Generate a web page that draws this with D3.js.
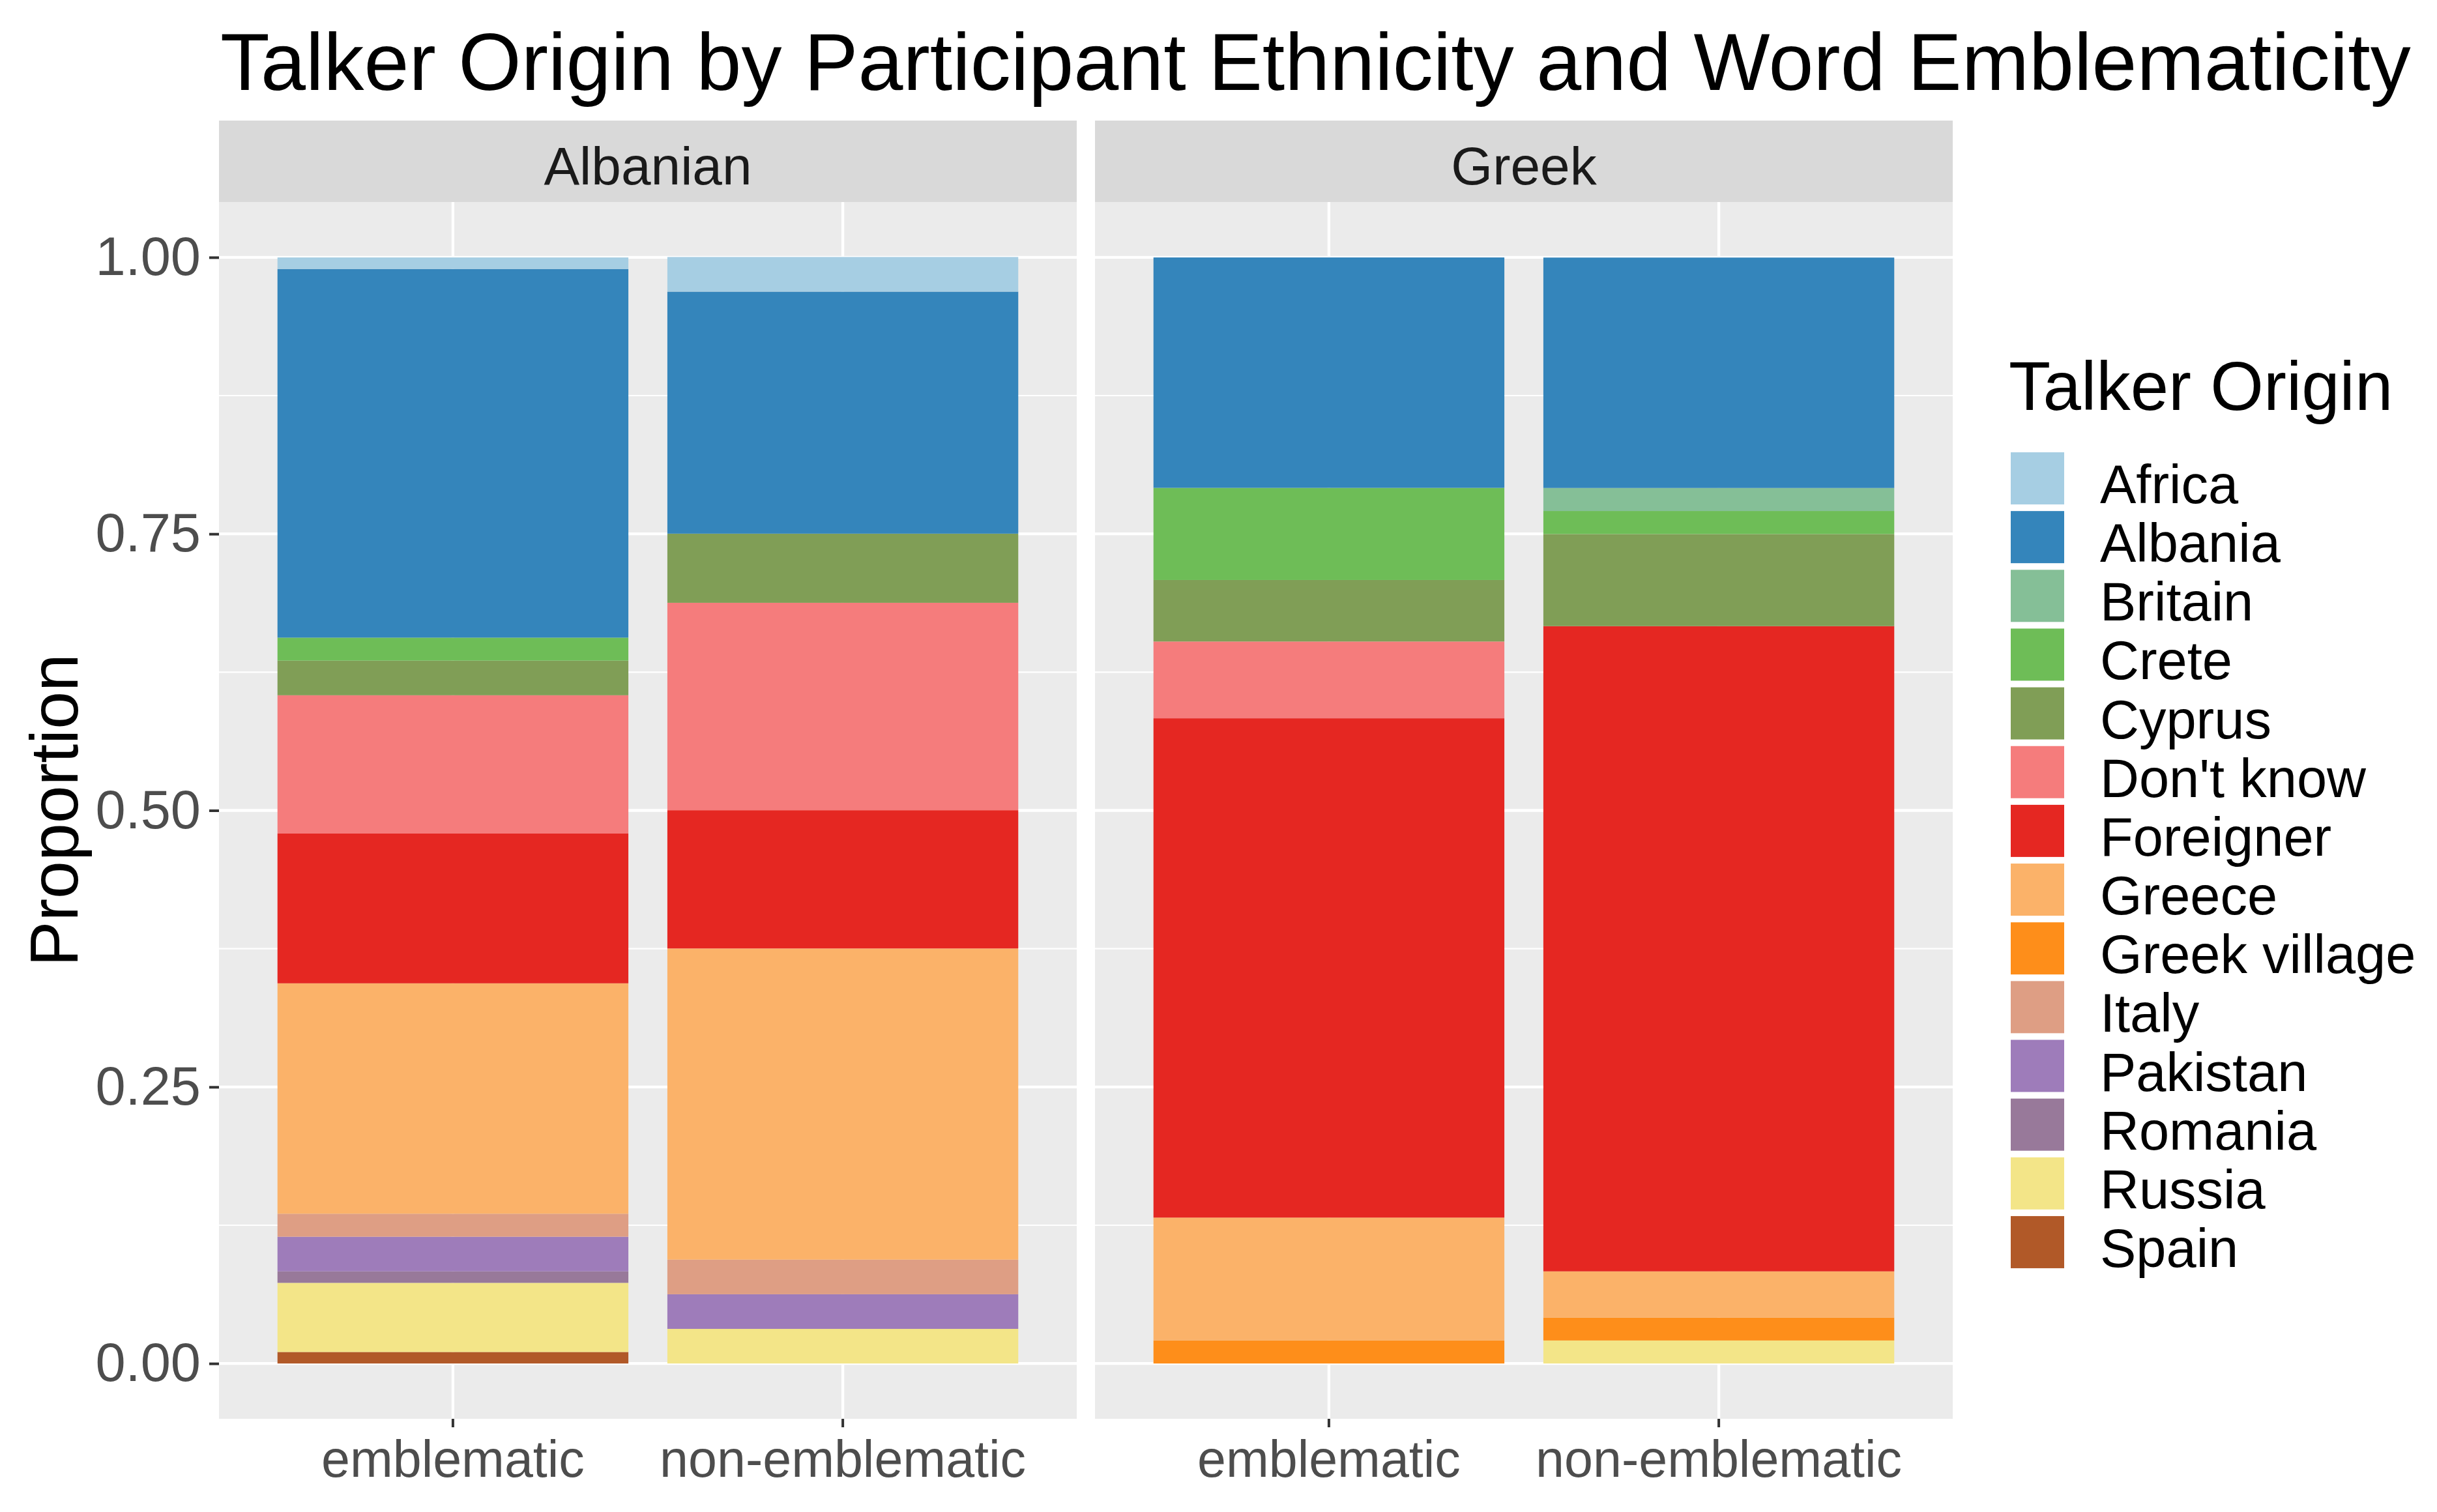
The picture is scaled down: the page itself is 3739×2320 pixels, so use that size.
<!DOCTYPE html>
<html><head><meta charset="utf-8">
<script src="https://cdn.jsdelivr.net/npm/d3@7"></script>
<style>
body{margin:0;background:#fff}
svg{display:block}
text{font-family:"Liberation Sans",Arial,Helvetica,sans-serif}
</style>
</head><body>
<svg id="chart" width="3739" height="2320"></svg>
<script>
// ---------- data ----------
const ethnicities = ["Albanian", "Greek"];
const categories = ["emblematic", "non-emblematic"];
const origins = ["Africa","Albania","Britain","Crete","Cyprus","Don't know","Foreigner","Greece","Greek village","Italy","Pakistan","Romania","Russia","Spain"];
const originColors = ["#A6CEE3","#3485BB","#85BF97","#6EBD57","#809E56","#F57C7C","#E52722","#FBB269","#FE8E1A","#DE9E84","#9E7CBA","#98799A","#F3E588","#B15928"];
// proportions per origin (same order as origins)
const albanianEmblematic    = [0.0104,0.3333,0,0.0208,0.0313,0.1250,0.1354,0.2083,0,0.0208,0.0313,0.0104,0.0625,0.0104];
const albanianNonEmblematic = [0.0313,0.2188,0,0,0.0625,0.1875,0.1250,0.2813,0,0.0313,0.0313,0,0.0313,0];
const greekEmblematic       = [0,0.2083,0,0.0833,0.0556,0.0694,0.4514,0.1111,0.0208,0,0,0,0,0];
const greekNonEmblematic    = [0,0.2083,0.0208,0.0208,0.0833,0,0.5833,0.0417,0.0208,0,0,0,0.0208,0];
const yTickValues = [0, 0.25, 0.5, 0.75, 1];
const yMinorValues = [0.125, 0.375, 0.625, 0.875];
const titleText = "Talker Origin by Participant Ethnicity and Word Emblematicity";
const yTitle = "Proportion";
const legendTitle = "Talker Origin";

const barSeries = {
  "Albanian|emblematic": albanianEmblematic,
  "Albanian|non-emblematic": albanianNonEmblematic,
  "Greek|emblematic": greekEmblematic,
  "Greek|non-emblematic": greekNonEmblematic
};

// ---------- layout ----------
const svg = d3.select("#chart");
const panelTop = 310, panelBottom = 2177;
const stripTop = 185;
const panelX = [[336, 1652], [1680, 2996]];
const grey = "#EBEBEB";

const y = d3.scaleLinear().domain([-0.05, 1.05]).range([panelBottom, panelTop]);
const color = d3.scaleOrdinal().domain(origins).range(originColors);

svg.append("rect").attr("width",3739).attr("height",2320).attr("fill","#fff");

// title
svg.append("text").attr("x",338).attr("y",138)
  .attr("font-size",124).attr("fill","#000").text(titleText);

const stack = d3.stack().keys(origins.slice().reverse());

ethnicities.forEach((eth, pi) => {
  const [x0, x1] = panelX[pi];
  const g = svg.append("g");
  const x = d3.scaleBand().domain(categories).range([x0, x1]).paddingInner(0.1).paddingOuter(0.15);

  // strip
  g.append("rect").attr("x",x0).attr("y",stripTop).attr("width",x1-x0).attr("height",panelTop-stripTop).attr("fill","#D9D9D9");
  g.append("text").attr("x",(x0+x1)/2).attr("y",283).attr("text-anchor","middle")
    .attr("font-size",82).attr("fill","#1A1A1A").text(eth);

  // panel
  g.append("rect").attr("x",x0).attr("y",panelTop).attr("width",x1-x0).attr("height",panelBottom-panelTop).attr("fill",grey);
  g.selectAll(".minor").data(yMinorValues).join("line")
    .attr("x1",x0).attr("x2",x1).attr("y1",d=>y(d)).attr("y2",d=>y(d))
    .attr("stroke","#fff").attr("stroke-width",2.2);
  g.selectAll(".major").data(yTickValues).join("line").attr("class","major")
    .attr("x1",x0).attr("x2",x1).attr("y1",d=>y(d)).attr("y2",d=>y(d))
    .attr("stroke","#fff").attr("stroke-width",4.3);
  g.selectAll(".vmajor").data(categories).join("line").attr("class","vmajor")
    .attr("x1",d=>x(d)+x.bandwidth()/2).attr("x2",d=>x(d)+x.bandwidth()/2)
    .attr("y1",panelTop).attr("y2",panelBottom)
    .attr("stroke","#fff").attr("stroke-width",4.3);

  // bars
  const rows = categories.map(cat => {
    const vals = barSeries[eth + "|" + cat];
    const row = {category: cat};
    origins.forEach((o, i) => row[o] = vals[i]);
    return row;
  });
  const layers = stack(rows);
  layers.forEach(layer => {
    g.append("g").attr("fill", color(layer.key))
      .selectAll("rect").data(layer.filter(d => d[1] - d[0] > 0)).join("rect")
      .attr("x", d => x(d.data.category))
      .attr("width", x.bandwidth())
      .attr("y", d => y(d[1]))
      .attr("height", d => y(d[0]) - y(d[1]));
  });

  // x axis
  const xa = svg.append("g").attr("transform",`translate(0,${panelBottom})`)
    .call(d3.axisBottom(x).tickSize(13).tickPadding(20));
  xa.select(".domain").remove();
  xa.selectAll("line").attr("stroke","#333333").attr("stroke-width",4);
  xa.selectAll("text").attr("font-size",79).attr("fill","#4D4D4D")
    .style("font-family","'Liberation Sans',Arial,sans-serif");
});

// y axis
const ya = svg.append("g").attr("transform",`translate(${panelX[0][0]},0)`)
  .call(d3.axisLeft(y).tickValues(yTickValues).tickFormat(d3.format(".2f")).tickSize(15).tickPadding(13));
ya.select(".domain").remove();
ya.selectAll("line").attr("stroke","#333333").attr("stroke-width",4);
ya.selectAll("text").attr("font-size",83).attr("fill","#4D4D4D")
  .style("font-family","'Liberation Sans',Arial,sans-serif");

svg.append("text").attr("transform","translate(119,1243) rotate(-90)")
  .attr("text-anchor","middle").attr("font-size",104).attr("fill","#000").text(yTitle);

// legend
const lg = svg.append("g");
lg.append("text").attr("x",3082).attr("y",629).attr("font-size",105).attr("fill","#000").text(legendTitle);
const keyStep = 90.15, keyTop = 694;
const items = lg.selectAll(".item").data(origins).join("g")
  .attr("transform",(d,i)=>`translate(3085,${keyTop + i*keyStep})`);
items.append("rect").attr("width",82).attr("height",80).attr("fill",d=>color(d));
items.append("text").attr("x",137).attr("y",78).attr("font-size",83).attr("fill","#000").text(d=>d);
</script>
</body></html>
